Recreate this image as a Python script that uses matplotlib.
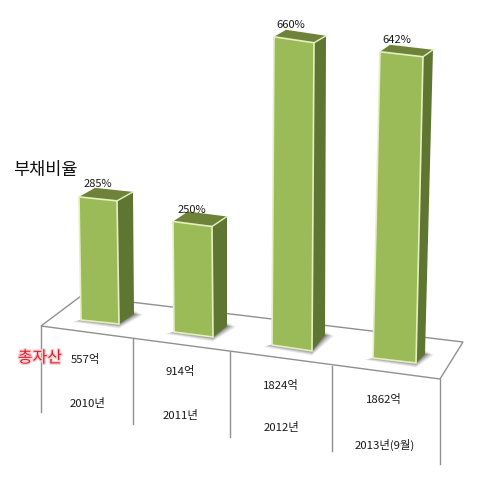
import matplotlib
matplotlib.use('Agg')
from matplotlib import pyplot as plt
from matplotlib.patches import Polygon
import matplotlib.patheffects as pe

plt.rcParams['font.family'] = ['Noto Sans CJK KR', 'DejaVu Sans']

# values
debt_ratio = [285, 250, 660, 642]
total_assets = [557, 914, 1824, 1862]
years = ['2010년', '2011년', '2012년', '2013년(9월)']

# perspective layout, all in image pixels
px_per_pct = [0.432, 0.442, 0.467, 0.477]
base_left = [(81, 320), (174, 332), (272, 345), (373, 358)]
base_right = [(119, 324), (213, 337), (312, 351), (416, 363)]
depth = [(15, -10), (14, -11), (13, -16), (9, -9)]
lean = [-2, -1, 2, 7]
top_depth = [(16, -9), (15, -10), (12, -7), (10, -7)]
ratio_label_pos = [(98, 184), (192, 210), (291, 25), (397, 40)]
asset_label_pos = [(85, 359), (180, 372), (281, 386), (384, 399)]
year_label_pos = [(88, 403), (181, 415), (281, 428), (385, 445)]

floor_corners = [(41, 326), (81, 296), (463, 342), (440, 379)]
divider_tops = [(41, 326), (133, 339), (230, 352), (332, 366), (440, 379)]
divider_bottoms = [412, 424, 437, 451, 464]

FRONT = '#9bbb59'
SIDE = '#5f7632'
TOP = '#6e8339'
EDGE = '#e6efc0'
LINE = '#909090'
TEXT = '#1a1a1a'

fig = plt.figure(figsize=(5, 4.78), dpi=100)
ax = fig.add_axes([0, 0, 1, 1])
ax.set_xlim(0, 500)
ax.set_ylim(478, 0)
ax.axis('off')

# floor
ax.add_patch(Polygon(floor_corners, closed=True, fc='white', ec=LINE, lw=1.0, zorder=1))
for (x, y0), y1 in zip(divider_tops, divider_bottoms):
    ax.plot([x, x], [y0, y1], color=LINE, lw=1.0, zorder=1)

# bars
for i, v in enumerate(debt_ratio):
    (lx, ly), (rx, ry) = base_left[i], base_right[i]
    dx, dy = depth[i]
    tdx, tdy = top_depth[i]
    h = v * px_per_pct[i]
    tl = (lx + lean[i], ly - h)
    tr = (rx + lean[i], ry - h)
    back_base = (rx + dx, ry + dy)
    back_top = (tr[0] + tdx, tr[1] + tdy)
    back_left = (tl[0] + tdx, tl[1] + tdy)

    # soft floor shadow, stacked see-through layers
    for grow, a in [(9, 0.07), (7, 0.09), (5, 0.12), (3, 0.16), (1, 0.2)]:
        ax.add_patch(Polygon([(lx - grow, ly + grow * 0.2), (rx, ry + grow * 0.5),
                              (back_base[0] + grow, back_base[1] + grow * 0.1),
                              (back_base[0] - 4, back_base[1] - grow * 0.6)],
                             closed=True, fc='black', ec='none', alpha=a, zorder=2))

    ax.add_patch(Polygon([tr, back_top, back_base, (rx, ry)], closed=True,
                         fc=SIDE, ec='none', zorder=3))
    ax.add_patch(Polygon([tl, back_left, back_top, tr], closed=True,
                         fc=TOP, ec='none', zorder=3))
    ax.add_patch(Polygon([tl, tr, (rx, ry), (lx, ly)], closed=True,
                         fc=FRONT, ec=EDGE, lw=1.2, zorder=4))
    ax.plot([tr[0], back_top[0]], [tr[1], back_top[1]], color=EDGE, lw=1.0, zorder=5)

    ax.text(*ratio_label_pos[i], f'{v}%', ha='center', va='center',
            fontsize=8, color=TEXT, zorder=6)
    ax.text(*asset_label_pos[i], f'{total_assets[i]}억', ha='center', va='center',
            fontsize=8.2, color=TEXT, zorder=6)
    ax.text(*year_label_pos[i], years[i], ha='center', va='center',
            fontsize=8.2, color=TEXT, zorder=6)

ax.text(13, 170, '부채비율', ha='left', va='center', fontsize=12.6, color='#111111')
ax.text(40, 358, '총자산', ha='center', va='center', fontsize=11.5, color='#d8202a', zorder=6,
        path_effects=[pe.withStroke(linewidth=2, foreground='#f8d0d4')])

fig.savefig('out.png', dpi=100)
